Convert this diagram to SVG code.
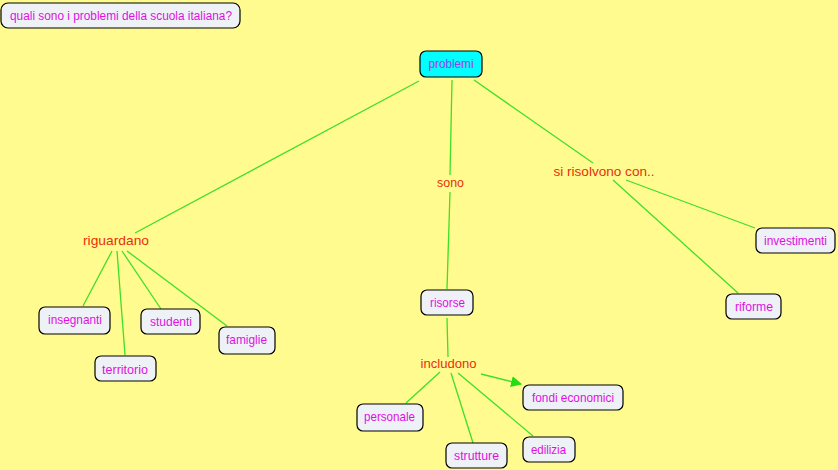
<svg xmlns="http://www.w3.org/2000/svg" width="838" height="470" viewBox="0 0 838 470">
<defs>
<style>
.n rect{fill:#eef2f7;stroke:#000;stroke-width:1.2}
.n text{font-family:"Liberation Sans",Arial,sans-serif;font-size:13px;fill:#e010e0;text-anchor:middle}
.l text{font-family:"Liberation Sans",Arial,sans-serif;font-size:13.5px;fill:#e8300a;text-anchor:middle}
.c line{stroke:#3de02a;stroke-width:1.3;fill:none}
</style>
<marker id="ar" viewBox="0 0 10 10" refX="9" refY="5" markerWidth="11" markerHeight="11" markerUnits="userSpaceOnUse" orient="auto">
<path d="M0,0 L10,5 L0,10 z" fill="#22dd11"/>
</marker>
</defs>
<rect width="838" height="470" fill="#fffb8f"/>
<g id="connectors" class="c">
<line x1="419" y1="81" x2="135" y2="233"/>
<line x1="452" y1="80" x2="450" y2="175"/>
<line x1="474" y1="80" x2="593" y2="163"/>
<line x1="450" y1="192" x2="447" y2="289"/>
<line x1="447" y1="318" x2="448" y2="357"/>
<line x1="440" y1="372" x2="406" y2="403"/>
<line x1="451" y1="373" x2="473" y2="443"/>
<line x1="458" y1="373" x2="533" y2="436"/>
<line x1="481" y1="374" x2="521" y2="384" marker-end="url(#ar)"/>
<line x1="112" y1="251" x2="83" y2="306"/>
<line x1="117" y1="251" x2="125" y2="355"/>
<line x1="122" y1="251" x2="161" y2="309"/>
<line x1="127" y1="251" x2="227" y2="326"/>
<line x1="626" y1="180" x2="755" y2="228"/>
<line x1="613" y1="180" x2="738" y2="293"/>
</g>
<g id="title" class="n"><rect x="1" y="3" width="239" height="25" rx="7"/><text x="121" y="20" style="font-size:12px" textLength="222" lengthAdjust="spacingAndGlyphs">quali sono i problemi della scuola italiana?</text></g>
<g id="problemi" class="n"><rect x="420" y="51" width="62" height="26" rx="6" style="fill:#00ffff"/><text x="451" y="67.5" style="fill:#9a3cf0" textLength="45" lengthAdjust="spacingAndGlyphs">problemi</text></g>
<g id="sono" class="l"><text x="450.5" y="187" textLength="27" lengthAdjust="spacingAndGlyphs">sono</text></g>
<g id="riguardano" class="l"><text x="116" y="245" textLength="66" lengthAdjust="spacingAndGlyphs">riguardano</text></g>
<g id="sirisolvono" class="l"><text x="604" y="176" textLength="101" lengthAdjust="spacingAndGlyphs">si risolvono con..</text></g>
<g id="includono" class="l"><text x="448.5" y="368" textLength="56" lengthAdjust="spacingAndGlyphs">includono</text></g>
<g id="risorse" class="n"><rect x="421" y="290" width="52" height="25" rx="6"/><text x="447.5" y="307" textLength="35" lengthAdjust="spacingAndGlyphs">risorse</text></g>
<g id="insegnanti" class="n"><rect x="39" y="307" width="71" height="27" rx="6"/><text x="75" y="324" textLength="54" lengthAdjust="spacingAndGlyphs">insegnanti</text></g>
<g id="territorio" class="n"><rect x="95" y="356" width="61" height="25" rx="6"/><text x="125" y="374" textLength="46" lengthAdjust="spacingAndGlyphs">territorio</text></g>
<g id="studenti" class="n"><rect x="141" y="309" width="59" height="25" rx="6"/><text x="171" y="326" textLength="42" lengthAdjust="spacingAndGlyphs">studenti</text></g>
<g id="famiglie" class="n"><rect x="219" y="327" width="56" height="27" rx="6"/><text x="246.5" y="344" textLength="41" lengthAdjust="spacingAndGlyphs">famiglie</text></g>
<g id="personale" class="n"><rect x="357" y="404" width="66" height="27" rx="6"/><text x="389.5" y="421" textLength="51" lengthAdjust="spacingAndGlyphs">personale</text></g>
<g id="strutture" class="n"><rect x="446" y="443" width="61" height="25" rx="6"/><text x="476.5" y="460" textLength="45" lengthAdjust="spacingAndGlyphs">strutture</text></g>
<g id="edilizia" class="n"><rect x="523" y="437" width="52" height="25" rx="6"/><text x="548.5" y="454" textLength="35" lengthAdjust="spacingAndGlyphs">edilizia</text></g>
<g id="fondi" class="n"><rect x="523" y="385" width="100" height="25" rx="6"/><text x="573" y="402" textLength="82" lengthAdjust="spacingAndGlyphs">fondi economici</text></g>
<g id="investimenti" class="n"><rect x="756" y="228" width="79" height="25" rx="6"/><text x="795.5" y="245" textLength="63" lengthAdjust="spacingAndGlyphs">investimenti</text></g>
<g id="riforme" class="n"><rect x="726" y="294" width="55" height="25" rx="6"/><text x="754" y="311" textLength="38" lengthAdjust="spacingAndGlyphs">riforme</text></g>
</svg>
